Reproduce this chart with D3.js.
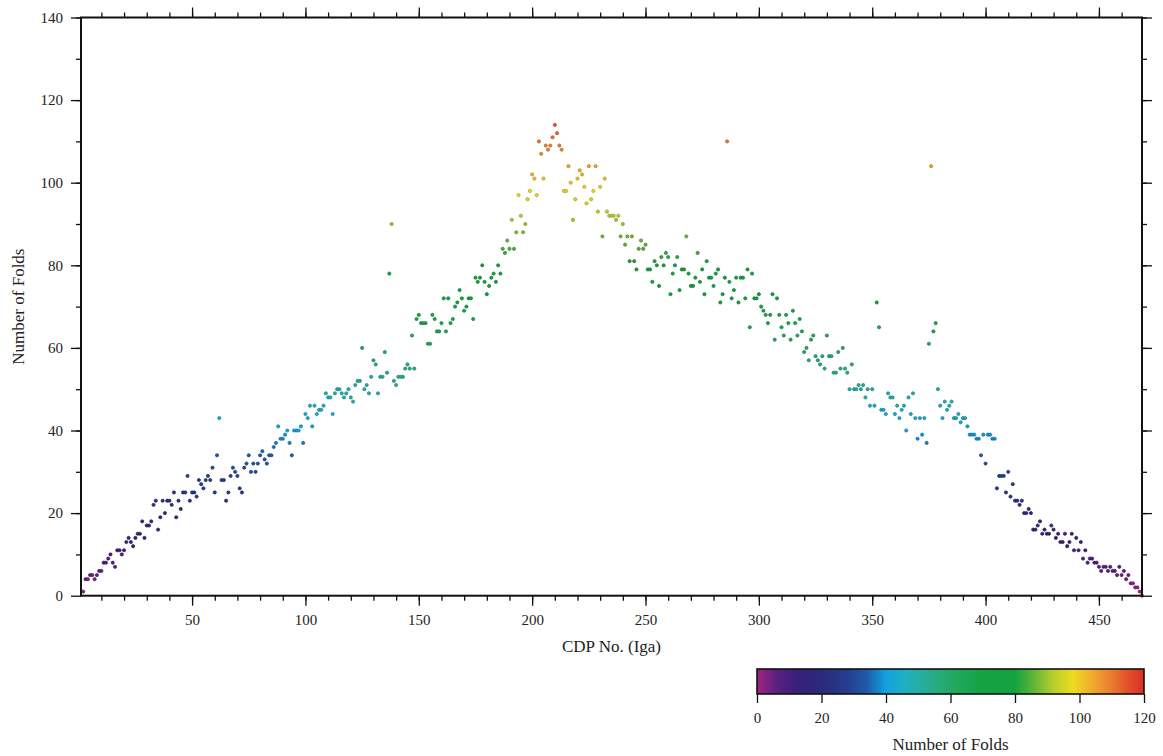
<!DOCTYPE html>
<html>
<head>
<meta charset="utf-8">
<script src="https://cdn.jsdelivr.net/npm/d3@7"></script>
<style>
  html, body { margin: 0; padding: 0; background: #ffffff; }
  svg { display: block; }
  text { font-family: "Liberation Serif", "DejaVu Serif", serif; fill: #222; }
</style>
</head>
<body>
<svg id="chart" width="1163" height="756"></svg>
<script>
// ---------- data (fold count per CDP) ----------
const cdpStart = 2;
const foldsSeg1 = [1,4,4,5,5,4,5,6,6,8, 8,9,10,8,7,11,11,10,11,13, 14,13,12,14,15,15,18,14,17,17, 18,22,23,16,19,23,20,23,23,22, 25,19,23,21,25,25,29,23,25,25, 24,28,27,26,28,29,28,31,25,34, 43,28,28,23,25,29,31,30,29,26, 25,31,32,34,30,32,30,32,34,35, 33,32,34,34,36,37];
const foldsSeg2 = [41,38,38,39,40,37,34,40,40,40, 41,37,44,43,46,41,46,44,45,45, 46,49,48,48,44,49,50,50,49,48, 49,50,48,47,51,52,52,60,50,51, 49,53,57,56,49,53,53,59,54,78, 90,52,51,53,53,53,55,56,55,63, 55,67,68,66,66,66,61,61,68,67, 64];
const foldsSeg3 = [64,66,72,64,72,66,67,70,71,74, 72,69,70,72,72,67,77,76,77,80, 76,73,75,77,78,76,80,78,84,83, 86,84,91,84,88,97,92,88,90,96, 98,102,101,97,110,107,101,109,108,109, 111,114,112,109,108,98,98,104,100,91, 96,101,103,102,99,95,104,96,98,104, 93,99,87,101,93,92,92,92,91,92];
const foldsSeg4 = [87,90,85,87,81,87,81,79,84,86, 84,85,79,79,76,81,80,75,82,80, 83,82,73,78,80,82,74,79,79,87, 78,75,75,77,83,76,79,73,81,77, 77,75,78,79,71,73,77,110,76,72, 74,77,71,77,77,72,79,65,78,72, 72,73,70,69,68,66,68,73,62,72, 68,65,63,68,66,62,69,66,63];
const foldsSeg5 = [67,64,59,60,57,62,63,58,57,56, 58,55,63,58,58,54,54,59,55,60, 55,54,50,56,50,50,51,50,51,48, 50,46,50,46,71,65,45,45,44,49, 48,48,44,46,43,45,46,40,48,44, 49,43,38,43,39,43,37,61,104,64, 66,50,46,43,47,45,46,47,43,43, 44,42,43,43,41,39,39,39,38];
const foldsSeg6 = [38,34,39,32,39,39,38,38,26,29, 29,29,25,30,24,27,23,23,22,23, 20,20,21,20,16,16,17,18,15,16, 15,15,17,16,14,15,13,13,15,12, 13,15,11,14,11,13,9,11,8,9, 9,8,8,7,6,7,7,6,7,6, 6,5,7,5,6,4,5,3,3,2, 2,1,0];

const xTicksMajor = [50,100,150,200,250,300,350,400,450];
const yTicksMajor = [0,20,40,60,80,100,120,140];
const barTicks = [0,20,40,60,80,100,120];
const colorStops = [0,6,12,20,28,34,40,46,52,60,70,80,86,92,98,103,110,115,120];
const colorValues = ["#a3237f","#5a2182","#3a1f78","#2b2a7a","#253d8e","#1f5aa8","#13a2df","#1fb0c0","#28ad98","#24a964","#14a343","#15a240","#62b636","#b8cf2c","#ecdc1f","#f1b22d","#ea7b30","#e2502a","#dc2e24"];

const xTitle = "CDP No. (Iga)";
const yTitle = "Number of Folds";
const barTitle = "Number of Folds";

// ---------- build ----------
const folds = [].concat(foldsSeg1, foldsSeg2, foldsSeg3, foldsSeg4, foldsSeg5, foldsSeg6);
const points = folds.map((v, i) => ({cdp: cdpStart + i, v: v}));

const svg = d3.select("#chart");
const L = 81, R = 1142, T = 17.5, B = 595.7;

const x = d3.scaleLinear().domain([1, 469]).range([L, R]);
const y = d3.scaleLinear().domain([0, 140]).range([B, T]);
const color = d3.scaleLinear().domain(colorStops).range(colorValues).clamp(true);

// points
svg.append("g").selectAll("circle").data(points).join("circle")
  .attr("cx", d => x(d.cdp))
  .attr("cy", d => y(d.v))
  .attr("r", 1.6)
  .attr("fill", d => color(d.v))
  .attr("stroke", d => d3.color(color(d.v)).darker(0.9))
  .attr("stroke-width", 0.7);

// axes
function styleAxis(g) {
  g.select(".domain").remove();
  g.selectAll(".tick line").attr("stroke", "#111").attr("stroke-width", 1.3);
  g.selectAll("text").attr("font-size", 15).attr("fill", "#222");
}
const xMinor = d3.range(10, 470, 10);
const yMinor = d3.range(10, 141, 10);

svg.append("g").attr("transform", `translate(0,${B})`)
  .call(d3.axisBottom(x).tickValues(xMinor).tickSize(5).tickFormat("")).call(styleAxis);
svg.append("g").attr("transform", `translate(0,${B})`)
  .call(d3.axisBottom(x).tickValues(xTicksMajor).tickSize(10).tickPadding(9).tickFormat(d3.format("d"))).call(styleAxis);
svg.append("g").attr("transform", `translate(0,${T})`)
  .call(d3.axisTop(x).tickValues(xMinor).tickSize(5).tickFormat("")).call(styleAxis);
svg.append("g").attr("transform", `translate(0,${T})`)
  .call(d3.axisTop(x).tickValues(xTicksMajor).tickSize(10).tickFormat("")).call(styleAxis);

svg.append("g").attr("transform", `translate(${L},0)`)
  .call(d3.axisLeft(y).tickValues(yMinor).tickSize(5).tickFormat("")).call(styleAxis);
svg.append("g").attr("transform", `translate(${L},0)`)
  .call(d3.axisLeft(y).tickValues(yTicksMajor).tickSize(10).tickPadding(8).tickFormat(d3.format("d"))).call(styleAxis);
svg.append("g").attr("transform", `translate(${R},0)`)
  .call(d3.axisRight(y).tickValues(yMinor).tickSize(5).tickFormat("")).call(styleAxis);
svg.append("g").attr("transform", `translate(${R},0)`)
  .call(d3.axisRight(y).tickValues(yTicksMajor).tickSize(10).tickFormat("")).call(styleAxis);

// frame
svg.append("rect").attr("x", L).attr("y", T).attr("width", R - L).attr("height", B - T)
  .attr("fill", "none").attr("stroke", "#111").attr("stroke-width", 2);

// titles
svg.append("text").attr("x", (L + R) / 2).attr("y", 652).attr("text-anchor", "middle")
  .attr("font-size", 17).text(xTitle);
svg.append("text").attr("transform", `translate(24,${(T + B) / 2}) rotate(-90)`)
  .attr("text-anchor", "middle").attr("font-size", 17).text(yTitle);

// colorbar
const cbL = 757, cbR = 1144, cbT = 669, cbB = 694;
const cx = d3.scaleLinear().domain([0, 120]).range([cbL, cbR]);
const defs = svg.append("defs");
const grad = defs.append("linearGradient").attr("id", "cbgrad")
  .attr("x1", "0%").attr("x2", "100%").attr("y1", "0%").attr("y2", "0%");
grad.selectAll("stop").data(colorStops).join("stop")
  .attr("offset", d => (d / 120 * 100) + "%")
  .attr("stop-color", d => color(d));
svg.append("rect").attr("x", cbL).attr("y", cbT).attr("width", cbR - cbL).attr("height", cbB - cbT)
  .attr("fill", "url(#cbgrad)").attr("stroke", "#111").attr("stroke-width", 1.6);
svg.append("g").attr("transform", `translate(0,${cbB})`)
  .call(d3.axisBottom(cx).tickValues(barTicks).tickSize(9).tickPadding(9).tickFormat(d3.format("d"))).call(styleAxis);
svg.append("text").attr("x", (cbL + cbR) / 2).attr("y", 750).attr("text-anchor", "middle")
  .attr("font-size", 17).text(barTitle);
</script>
</body>
</html>
